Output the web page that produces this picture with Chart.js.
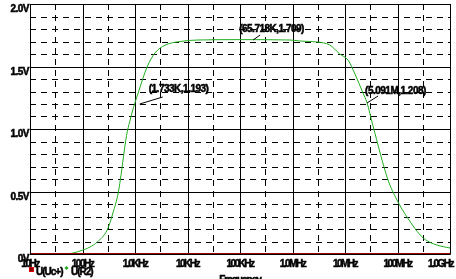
<!DOCTYPE html>
<html>
<head>
<meta charset="utf-8">
<script src="https://cdn.jsdelivr.net/npm/chart.js@4.4.1/dist/chart.umd.min.js"></script>
<style>
  html, body { margin: 0; padding: 0; background: #fff; }
</style>
</head>
<body>
<canvas id="myChart" width="456" height="279"></canvas>
<script>
// PSpice style AC sweep: U(R2) band pass response

const freqs = [10, 32, 58, 89, 138, 191, 295, 380, 479, 525, 692, 794, 933, 1148, 1698, 2399, 3715, 7244,
  15849, 100000, 891000, 1380000, 2138000, 2951000, 5129000, 7943000, 11480000, 15490000,
  21880000, 26300000, 33880000, 66070000, 97720000, 151400000, 309000000, 562000000, 1000000000];
const uR2 = [0, 0.001, 0.004, 0.024, 0.055, 0.096, 0.192, 0.328, 0.488, 0.592, 0.95, 1.06, 1.17, 1.288,
  1.496, 1.608, 1.67, 1.70, 1.712, 1.715, 1.712, 1.704, 1.70, 1.696, 1.672, 1.60, 1.55, 1.44,
  1.29, 1.21, 1.03, 0.592, 0.432, 0.296, 0.128, 0.072, 0.048];

const ucFreqs = [10, 1000000000];
const uUc = [0, 0];

const xTicks = [10, 100, 1000, 10000, 100000, 1000000, 10000000, 100000000, 1000000000];
const xTickLabels = ['10Hz', '100Hz', '1.0KHz', '10KHz', '100KHz', '1.0MHz', '10MHz', '100MHz', '1.0GHz'];
const xMinor = [30, 300, 3000, 30000, 300000, 3000000, 30000000, 300000000];

const yTicks = [0, 0.5, 1.0, 1.5, 2.0];
const yTickLabels = ['0V', '0.5V', '1.0V', '1.5V', '2.0V'];
const yMinor = [0.1, 0.2, 0.3, 0.4, 0.6, 0.7, 0.8, 0.9, 1.1, 1.2, 1.3, 1.4, 1.6, 1.7, 1.8, 1.9];

// cursor read-outs
const cursorFreq = [1230, 178000, 26300000];
const cursorVal = [1.2, 1.712, 1.208];
const cursorText = ['(1.733K,1.193)', '(65.718K,1.709)', '(5.091M,1.208)'];

const FONT = 'bold 10px "Liberation Sans", Arial, sans-serif';

// heavy pixel-ish text like the PSpice probe window
function heavyText(ctx, s, x, y) {
  ctx.fillText(s, x, y);
  ctx.strokeText(s, x, y);
}

const pspicePlugin = {
  id: 'pspice',
  beforeDatasetsDraw(chart) {
    const ctx = chart.ctx;
    const a = chart.chartArea;
    const xs = chart.scales.x, ys = chart.scales.y;
    ctx.save();
    ctx.strokeStyle = '#000';
    ctx.lineWidth = 1;
    // dashed minor grid
    ctx.setLineDash([6, 5]);
    ctx.beginPath();
    yMinor.forEach(v => {
      const y = Math.round(ys.getPixelForValue(v)) + 0.5;
      ctx.moveTo(a.left, y); ctx.lineTo(a.right, y);
    });
    xMinor.forEach(v => {
      const x = Math.round(xs.getPixelForValue(v)) + 0.5;
      ctx.moveTo(x, a.top); ctx.lineTo(x, a.bottom);
    });
    ctx.stroke();
    // solid major grid
    ctx.setLineDash([]);
    ctx.beginPath();
    yTicks.forEach(v => {
      const y = Math.round(ys.getPixelForValue(v)) + 0.5;
      ctx.moveTo(a.left, y); ctx.lineTo(a.right, y);
    });
    xTicks.forEach(v => {
      const x = Math.round(xs.getPixelForValue(v)) + 0.5;
      ctx.moveTo(x, a.top); ctx.lineTo(x, a.bottom);
    });
    ctx.stroke();
    ctx.restore();
  },
  afterDatasetsDraw(chart) {
    const ctx = chart.ctx;
    const a = chart.chartArea;
    const xs = chart.scales.x, ys = chart.scales.y;
    ctx.save();
    ctx.fillStyle = '#000';
    ctx.strokeStyle = '#000';
    ctx.lineWidth = 0.5;
    ctx.font = FONT;

    // y tick labels, top aligned to the line
    ctx.letterSpacing = '-0.5px';
    ctx.textAlign = 'right';
    ctx.textBaseline = 'top';
    yTicks.forEach((v, i) => {
      heavyText(ctx, yTickLabels[i], a.left - 1, Math.round(ys.getPixelForValue(v)));
    });

    // x tick labels
    ctx.letterSpacing = '-1.5px';
    ctx.textAlign = 'center';
    xTicks.forEach((v, i) => {
      const w = ctx.measureText(xTickLabels[i]).width;
      let x = xs.getPixelForValue(v);
      if (x + w / 2 > chart.width - 3) x = chart.width - 3 - w / 2;
      heavyText(ctx, xTickLabels[i], x, a.bottom + 5);
    });

    // legend
    ctx.letterSpacing = '-1px';
    ctx.textAlign = 'left';
    ctx.fillStyle = '#800000';
    ctx.fillRect(29, 267, 5, 5);
    ctx.strokeStyle = '#e00000';
    ctx.lineWidth = 1;
    ctx.strokeRect(29.5, 267.5, 4, 4);
    ctx.fillStyle = '#000';
    ctx.strokeStyle = '#000';
    ctx.lineWidth = 0.5;
    heavyText(ctx, 'U(Uc+)', 36, 267);
    ctx.fillStyle = '#1fae1f';
    ctx.beginPath();
    ctx.moveTo(66.5, 266); ctx.lineTo(68.5, 268); ctx.lineTo(66.5, 270); ctx.lineTo(64.5, 268);
    ctx.closePath(); ctx.fill();
    ctx.fillStyle = '#000';
    heavyText(ctx, 'U(R2)', 71, 267);

    // axis title (cut by the window edge)
    ctx.textAlign = 'center';
    heavyText(ctx, 'Frequency', 240, 275);

    // cursor read-outs: [leader dx, leader dy, text dx, text dy]
    ctx.letterSpacing = '-0.5px';
    ctx.textAlign = 'left';
    ctx.textBaseline = 'middle';
    const offs = [[23, -7, -14, -8], [7, -5, -21, -6], [11, -7, -13, -5]];
    cursorFreq.forEach((f, i) => {
      const px = xs.getPixelForValue(f);
      const py = ys.getPixelForValue(cursorVal[i]);
      const o = offs[i];
      ctx.lineWidth = 1;
      ctx.beginPath();
      ctx.moveTo(px, py);
      ctx.lineTo(px + o[0], py + o[1]);
      ctx.stroke();
      ctx.lineWidth = 0.5;
      heavyText(ctx, cursorText[i], px + o[0] + o[2], py + o[1] + o[3]);
    });

    // plot frame
    ctx.lineWidth = 1;
    ctx.beginPath();
    ctx.rect(a.left + 0.5, a.top + 0.5, a.right - a.left, a.bottom - a.top);
    ctx.stroke();
    ctx.restore();
  }
};

const data = {
  datasets: [
    {
      label: 'U(R2)',
      data: freqs.map((f, i) => ({ x: f, y: uR2[i] })),
      borderColor: '#1fae1f',
      borderWidth: 1,
      pointRadius: 0,
      cubicInterpolationMode: 'monotone',
      order: 2,
    },
    {
      label: 'U(Uc+)',
      data: ucFreqs.map((f, i) => ({ x: f, y: uUc[i] })),
      borderColor: '#a00000',
      borderWidth: 2,
      pointRadius: 0,
      order: 1,
    },
  ]
};

const config = {
  type: 'line',
  data: data,
  options: {
    responsive: false,
    animation: false,
    devicePixelRatio: 1,
    layout: {
      padding: { left: 30, right: 6, top: 4, bottom: 25 }
    },
    scales: {
      x: { type: 'logarithmic', min: 10, max: 1000000000, display: false },
      y: { type: 'linear', min: 0, max: 2, display: false }
    },
    plugins: {
      legend: { display: false },
      tooltip: { enabled: false }
    }
  },
  plugins: [pspicePlugin]
};

const myChart = new Chart(document.getElementById('myChart'), config);
</script>
</body>
</html>
